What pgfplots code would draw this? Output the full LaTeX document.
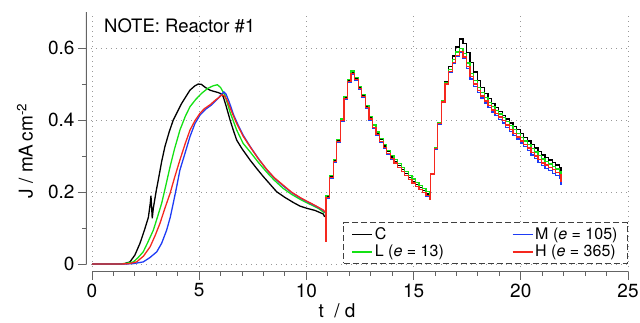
\documentclass[border=0pt]{standalone}
\usepackage{fontspec}
\setmainfont{TeX Gyre Heros}
\usepackage{pgfplots}
\pgfplotsset{compat=1.18}
\definecolor{cG}{RGB}{20,225,20}
\definecolor{cB}{RGB}{30,60,245}
\definecolor{cR}{RGB}{245,40,30}
\definecolor{cA}{RGB}{100,100,100}
\begin{document}
\begin{tikzpicture}
\begin{axis}[
 scale only axis, width=542pt, height=260pt,
 xmin=-0.28, xmax=25, ymin=-0.022, ymax=0.7,
 axis x line*=bottom, axis y line*=left,
 axis line style={draw=none},
 xtick={0,5,...,25}, ytick={0,0.2,0.4,0.6},
 minor x tick num=4, minor y tick num=1,
 tick align=outside,
 major tick length=8pt, minor tick length=4pt,
 tick style={cA, line width=1pt},
 grid=major, major grid style={black!40, line width=0.9pt, dash pattern=on 1pt off 4pt},
 /pgf/number format/assume math mode=true,
 tick label style={font=\fontsize{19}{22}\selectfont},
 every axis plot/.append style={line width=1.3pt, mark=none},
 legend style={at={(rel axis cs:1,0.031)}, anchor=south east, draw=black!75, line width=1pt,
   dash pattern=on 6pt off 3pt, fill=white, font=\fontsize{16}{19}\selectfont,
   inner xsep=8pt, inner ysep=3pt, row sep=0pt,
   /tikz/every even column/.append style={column sep=66pt}},
 legend columns=2, transpose legend, legend cell align=left,
 legend image code/.code={\draw[solid, line width=1.4pt, #1] (0pt,0pt) -- (20pt,0pt);},
]
% ---------- C ----------
\addplot[black] coordinates {
(0,0) (1.0,0) (1.5,0.001) (1.77,0.006) (2.0,0.025) (2.24,0.058) (2.45,0.095) (2.63,0.13)
(2.72,0.17) (2.75,0.19) (2.81,0.127) (2.86,0.155) (3.0,0.205) (3.09,0.233) (3.25,0.285)
(3.4,0.326) (3.6,0.367) (3.79,0.40) (4.0,0.425) (4.18,0.446) (4.4,0.467) (4.57,0.483)
(4.8,0.495) (4.96,0.50) (5.1,0.499) (5.3,0.49) (5.5,0.483) (5.66,0.48) (5.9,0.476)
(6.05,0.472) (6.12,0.465) (6.25,0.44) (6.44,0.40) (6.6,0.37) (6.75,0.344) (7.0,0.32)
(7.37,0.289) (7.7,0.264) (7.99,0.243) (8.3,0.222) (8.61,0.201) (9.0,0.185) (9.39,0.171)
(9.7,0.161) (10.01,0.155) (10.4,0.149) (10.79,0.139) (10.85,0.131)
};
\addlegendentry{C}
\addplot[black, const plot, forget plot] coordinates {
(10.85,0.131) (10.88,0.062)
(10.92,0.188) (11.08,0.243) (11.25,0.288) (11.42,0.343) (11.58,0.401) (11.75,0.463)
(11.92,0.510) (12.08,0.533) (12.25,0.515) (12.42,0.492) (12.58,0.469) (12.75,0.439)
(12.92,0.407) (13.08,0.384) (13.25,0.364) (13.42,0.345) (13.58,0.328) (13.75,0.312)
(13.92,0.297) (14.08,0.285) (14.25,0.273) (14.42,0.262) (14.58,0.251) (14.75,0.240)
(14.92,0.230) (15.08,0.221) (15.25,0.213) (15.42,0.204) (15.58,0.195) (15.75,0.185)
(15.80,0.252) (15.97,0.323) (16.13,0.394) (16.30,0.455) (16.47,0.507) (16.63,0.548)
(16.80,0.578) (16.97,0.603) (17.13,0.625) (17.30,0.612) (17.47,0.588) (17.63,0.560)
(17.80,0.533) (17.97,0.510) (18.13,0.490) (18.30,0.474) (18.47,0.459) (18.63,0.446)
(18.80,0.434) (18.97,0.423) (19.13,0.413) (19.30,0.403) (19.47,0.392) (19.63,0.382)
(19.80,0.373) (19.97,0.362) (20.13,0.352) (20.30,0.342) (20.47,0.332) (20.63,0.322)
(20.80,0.312) (20.97,0.303) (21.13,0.296) (21.30,0.289) (21.47,0.282) (21.63,0.275)
(21.80,0.268) (21.88,0.252) (21.92,0.252)
};
% ---------- L ----------
\addplot[cG] coordinates {
(0,0) (1.2,0) (1.6,0.002) (1.93,0.006) (2.15,0.018) (2.39,0.034) (2.6,0.06) (2.86,0.094)
(3.05,0.13) (3.25,0.169) (3.45,0.22) (3.64,0.27) (3.85,0.32) (4.1,0.372) (4.35,0.41)
(4.57,0.437) (4.85,0.458) (5.11,0.474) (5.4,0.488) (5.65,0.495) (5.85,0.498) (6.0,0.49)
(6.2,0.469) (6.45,0.42) (6.75,0.372) (7.05,0.335) (7.37,0.312) (7.75,0.283) (8.15,0.255)
(8.5,0.233) (8.92,0.210) (9.3,0.194) (9.7,0.180) (10.1,0.168) (10.55,0.155) (10.85,0.142)
};
\addlegendentry{L (\textit{e} = 13)}
\addplot[cG, const plot, forget plot] coordinates {
(10.85,0.142) (10.88,0.062)
(10.92,0.190) (11.08,0.245) (11.25,0.290) (11.42,0.345) (11.58,0.403) (11.75,0.465)
(11.92,0.513) (12.08,0.536) (12.25,0.518) (12.42,0.494) (12.58,0.471) (12.75,0.441)
(12.92,0.409) (13.08,0.386) (13.25,0.367) (13.42,0.348) (13.58,0.332) (13.75,0.316)
(13.92,0.302) (14.08,0.290) (14.25,0.279) (14.42,0.268) (14.58,0.257) (14.75,0.246)
(14.92,0.236) (15.08,0.227) (15.25,0.219) (15.42,0.210) (15.58,0.201) (15.75,0.191)
(15.80,0.252) (15.97,0.322) (16.13,0.392) (16.30,0.453) (16.47,0.504) (16.63,0.541)
(16.80,0.568) (16.97,0.589) (17.13,0.599) (17.30,0.585) (17.47,0.558) (17.63,0.530)
(17.80,0.509) (17.97,0.491) (18.13,0.476) (18.30,0.462) (18.47,0.449) (18.63,0.437)
(18.80,0.427) (18.97,0.417) (19.13,0.407) (19.30,0.396) (19.47,0.384) (19.63,0.373)
(19.80,0.363) (19.97,0.352) (20.13,0.342) (20.30,0.332) (20.47,0.321) (20.63,0.311)
(20.80,0.301) (20.97,0.292) (21.13,0.285) (21.30,0.278) (21.47,0.271) (21.63,0.264)
(21.80,0.257) (21.88,0.240) (21.92,0.240)
};
% ---------- M ----------
\addplot[cB] coordinates {
(0,0) (1.4,0) (1.9,0.001) (2.39,0.006) (2.7,0.018) (3.02,0.034) (3.25,0.058) (3.48,0.094)
(3.65,0.13) (3.79,0.169) (3.95,0.215) (4.1,0.261) (4.35,0.31) (4.57,0.354) (4.8,0.39)
(5.04,0.414) (5.3,0.43) (5.58,0.442) (5.85,0.458) (6.05,0.472) (6.15,0.478) (6.25,0.472)
(6.4,0.45) (6.6,0.415) (6.8,0.388) (7.05,0.358) (7.37,0.327) (7.75,0.294) (8.15,0.262)
(8.5,0.239) (8.92,0.217) (9.3,0.199) (9.7,0.184) (10.01,0.174) (10.4,0.162) (10.79,0.149)
(10.85,0.144)
};
\addlegendentry{M (\textit{e} = 105)}
\addplot[cB, const plot, forget plot] coordinates {
(10.85,0.144) (10.88,0.062)
(10.92,0.183) (11.08,0.238) (11.25,0.283) (11.42,0.338) (11.58,0.396) (11.75,0.457)
(11.92,0.504) (12.08,0.527) (12.25,0.509) (12.42,0.485) (12.58,0.462) (12.75,0.432)
(12.92,0.400) (13.08,0.378) (13.25,0.358) (13.42,0.339) (13.58,0.322) (13.75,0.306)
(13.92,0.292) (14.08,0.280) (14.25,0.268) (14.42,0.257) (14.58,0.245) (14.75,0.234)
(14.92,0.224) (15.08,0.215) (15.25,0.207) (15.42,0.198) (15.58,0.189) (15.75,0.179)
(15.80,0.248) (15.97,0.318) (16.13,0.388) (16.30,0.448) (16.47,0.498) (16.63,0.533)
(16.80,0.558) (16.97,0.578) (17.13,0.589) (17.30,0.572) (17.47,0.543) (17.63,0.514)
(17.80,0.494) (17.97,0.476) (18.13,0.461) (18.30,0.447) (18.47,0.434) (18.63,0.422)
(18.80,0.412) (18.97,0.402) (19.13,0.392) (19.30,0.380) (19.47,0.368) (19.63,0.357)
(19.80,0.347) (19.97,0.336) (20.13,0.326) (20.30,0.315) (20.47,0.303) (20.63,0.293)
(20.80,0.283) (20.97,0.273) (21.13,0.266) (21.30,0.259) (21.47,0.252) (21.63,0.245)
(21.80,0.238) (21.88,0.222) (21.92,0.222)
};
% ---------- H ----------
\addplot[cR] coordinates {
(0,0) (1.2,0) (1.7,0.001) (2.08,0.006) (2.4,0.022) (2.71,0.048) (2.95,0.08) (3.17,0.113)
(3.4,0.155) (3.64,0.196) (3.85,0.24) (4.1,0.289) (4.35,0.335) (4.57,0.372) (4.8,0.398)
(5.04,0.419) (5.25,0.432) (5.5,0.442) (5.75,0.455) (5.97,0.465) (6.05,0.47) (6.15,0.468)
(6.28,0.458) (6.5,0.425) (6.75,0.39) (7.05,0.355) (7.37,0.326) (7.75,0.293) (8.15,0.263)
(8.5,0.24) (8.92,0.219) (9.3,0.2) (9.7,0.185) (10.01,0.175) (10.4,0.163) (10.79,0.15)
(10.85,0.145)
};
\addlegendentry{H (\textit{e} = 365)}
\addplot[cR, const plot, forget plot] coordinates {
(10.85,0.145) (10.88,0.062)
(10.92,0.185) (11.08,0.240) (11.25,0.285) (11.42,0.340) (11.58,0.398) (11.75,0.460)
(11.92,0.507) (12.08,0.530) (12.25,0.512) (12.42,0.488) (12.58,0.465) (12.75,0.435)
(12.92,0.403) (13.08,0.380) (13.25,0.360) (13.42,0.341) (13.58,0.324) (13.75,0.308)
(13.92,0.293) (14.08,0.281) (14.25,0.269) (14.42,0.258) (14.58,0.246) (14.75,0.235)
(14.92,0.225) (15.08,0.216) (15.25,0.208) (15.42,0.199) (15.58,0.190) (15.75,0.180)
(15.80,0.250) (15.97,0.320) (16.13,0.390) (16.30,0.450) (16.47,0.500) (16.63,0.535)
(16.80,0.560) (16.97,0.580) (17.13,0.590) (17.30,0.575) (17.47,0.548) (17.63,0.520)
(17.80,0.500) (17.97,0.482) (18.13,0.467) (18.30,0.453) (18.47,0.440) (18.63,0.428)
(18.80,0.418) (18.97,0.408) (19.13,0.398) (19.30,0.386) (19.47,0.374) (19.63,0.363)
(19.80,0.353) (19.97,0.342) (20.13,0.332) (20.30,0.322) (20.47,0.310) (20.63,0.300)
(20.80,0.290) (20.97,0.281) (21.13,0.275) (21.30,0.269) (21.47,0.262) (21.63,0.255)
(21.80,0.248) (21.88,0.229) (21.92,0.229)
};
% axis spines (offset, Igor style)
\draw[cA, line width=1.2pt] (axis cs:0,-0.022) -- (axis cs:25,-0.022);
\draw[cA, line width=1.2pt] (axis cs:-0.28,0) -- (axis cs:-0.28,0.7);
\path (rel axis cs:0,0) ++(18pt,239pt) node[anchor=base west, inner sep=0pt, font=\fontsize{18.5}{22}\selectfont] {NOTE: Reactor \#1};
\end{axis}
\path (current axis.south west) ++(-61pt,121pt) node[rotate=90, font=\fontsize{19}{22}\selectfont] {J / mA\,cm\textsuperscript{-2}};
\path (current axis.south west) ++(251pt,-46pt) node[anchor=base, inner sep=0pt, font=\fontsize{19}{22}\selectfont] {t\ \ / d};
\pgfresetboundingbox
\path[use as bounding box] (current axis.south west) ++(-86pt,-51pt) rectangle ([xshift=12pt,yshift=12pt]current axis.north east);
\end{tikzpicture}
\end{document}
